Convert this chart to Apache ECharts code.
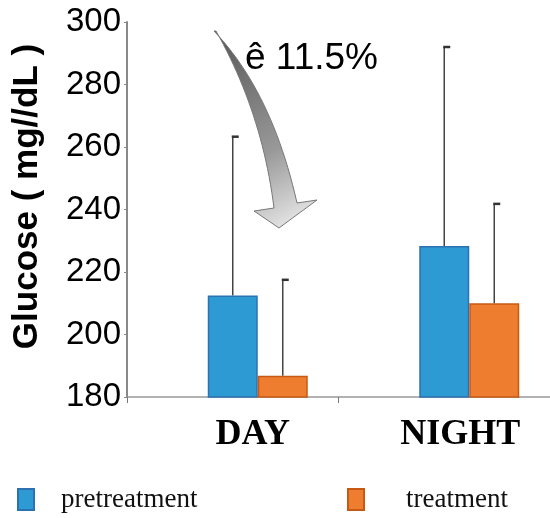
<!DOCTYPE html>
<html><head><meta charset="utf-8">
<script src="https://cdn.jsdelivr.net/npm/echarts@6/dist/echarts.min.js"></script>
<style>html,body{margin:0;padding:0;background:#fff}#c{width:550px;height:518px}</style>
</head><body><div id="c"></div>
<script>
const categories = ['DAY', 'NIGHT'];
const pretreatment = [212.5, 228.3];
const pretreatmentErrTop = [263.3, 292.0];
const treatment = [186.8, 210.0];
const treatmentErrTop = [217.5, 241.8];
const yTicks = [180, 200, 220, 240, 260, 280, 300];

const chart = echarts.init(document.getElementById('c'));

function errSeries(name, vals, tops, slot) {
  return {
    type: 'custom', name: name + ' err', silent: true, z: 1,
    data: vals.map((v, i) => [i, v, tops[i]]),
    renderItem: function (params, api) {
      const i = api.value(0);
      const base = api.coord([i, api.value(1)]);
      const top = api.coord([i, api.value(2)]);
      const bw = 50;
      const cx = base[0] - 1.5 * bw + (slot + 0.5) * bw;
      return { type: 'group', children: [
        { type: 'line', shape: { x1: cx, y1: base[1], x2: cx, y2: top[1] }, style: { stroke: '#444', lineWidth: 1.5 } },
        { type: 'line', shape: { x1: cx - 1, y1: top[1], x2: cx + 6, y2: top[1] }, style: { stroke: '#333', lineWidth: 2.5 } }
      ]};
    }
  };
}

// decorative curved arrow outline
function quad(p0, p1, p2, n) {
  const pts = [];
  for (let k = 0; k <= n; k++) {
    const t = k / n, u = 1 - t;
    pts.push([u * u * p0[0] + 2 * u * t * p1[0] + t * t * p2[0], u * u * p0[1] + 2 * u * t * p1[1] + t * t * p2[1]]);
  }
  return pts;
}
const arrowPts = [].concat(
  quad([214, 31], [272, 92], [297, 203], 24),
  [[317, 200], [279, 228], [254, 211], [274, 208]],
  quad([274, 208], [262, 112], [216, 31], 24)
);

const legendText = { fontFamily: 'Liberation Serif', fontSize: 27, color: '#111' };

chart.setOption({
  animation: false,
  grid: { left: 127, right: 0, top: 22, bottom: 121, containLabel: false },
  legend: [
    { data: ['pretreatment'], left: 12, top: 481, icon: 'rect', itemWidth: 16, itemHeight: 21,
      textStyle: Object.assign({ padding: [0, 0, 0, 22] }, legendText) },
    { data: ['treatment'], left: 342, top: 481, icon: 'rect', itemWidth: 16, itemHeight: 21,
      textStyle: Object.assign({ padding: [0, 0, 0, 37] }, legendText) }
  ],
  xAxis: {
    type: 'category', data: categories,
    axisLine: { lineStyle: { color: '#999', width: 1.5 } },
    axisTick: { show: true, alignWithLabel: false, length: 6, lineStyle: { color: '#777' } },
    axisLabel: { margin: 20,
      formatter: function (v) { return v === 'DAY' ? '{d|' + v + '}' : '{n|' + v + '}'; },
      rich: {
        d: { fontFamily: 'Liberation Serif', fontWeight: 'bold', fontSize: 36, color: '#000', padding: [0, 0, 0, 40] },
        n: { fontFamily: 'Liberation Serif', fontWeight: 'bold', fontSize: 36, color: '#000', padding: [0, 0, 0, 32] }
      } }
  },
  yAxis: {
    type: 'value', min: 180, max: 300, interval: 20,
    name: 'Glucose ( mg//dL )', nameLocation: 'middle', nameGap: 82,
    nameTextStyle: { fontFamily: 'Liberation Sans', fontWeight: 'bold', fontSize: 35, color: '#000', padding: [0, 0, 0, 26] },
    axisLine: { show: true, lineStyle: { color: '#888', width: 2 } },
    axisTick: { show: true, length: 3, lineStyle: { color: '#888' } },
    splitLine: { show: false },
    axisLabel: { fontFamily: 'Liberation Sans', fontSize: 33, color: '#000', margin: 6,
      formatter: function (v) { return yTicks.indexOf(v) >= 0 ? String(v) : ''; } }
  },
  series: [
    { type: 'bar', name: '_spacer', data: [null, null], barWidth: 50, barGap: '0%' },
    { type: 'bar', name: 'pretreatment', data: pretreatment, barWidth: 50, barGap: '0%', z: 2,
      itemStyle: { color: '#2E9AD4', borderColor: '#2C72B0', borderWidth: 1.5 } },
    { type: 'bar', name: 'treatment', data: treatment, barWidth: 50, barGap: '0%', z: 2,
      itemStyle: { color: '#EE7D2F', borderColor: '#C65A14', borderWidth: 1.5 } },
    errSeries('pretreatment', pretreatment, pretreatmentErrTop, 1),
    errSeries('treatment', treatment, treatmentErrTop, 2)
  ],
  graphic: [
    { type: 'polygon', z: 10,
      shape: { points: arrowPts },
      style: { fill: { type: 'linear', x: 0, y: 0, x2: 1, y2: 1, colorStops: [
        { offset: 0, color: '#555' }, { offset: 0.6, color: '#999' }, { offset: 1, color: '#f4f4f4' }] },
        stroke: '#777', lineWidth: 1 } },
    { type: 'text', left: 245, top: 40, z: 11,
      style: { text: 'ê 11.5%', fontFamily: 'Liberation Sans', fontSize: 37, fill: '#000' } }
  ]
});
</script>
</body></html>
